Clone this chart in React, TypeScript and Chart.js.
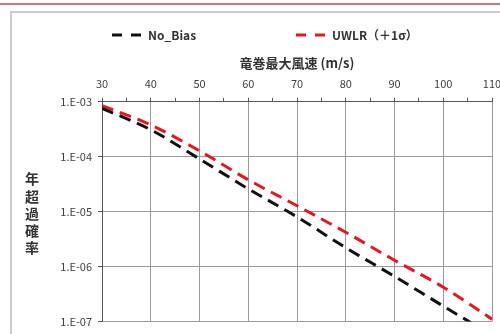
import React, { useEffect, useRef } from "react";
import { Chart, registerables } from "chart.js";

Chart.register(...registerables);

const windSpeeds = [30, 40, 50, 60, 70, 80, 90, 100, 110];
const noBias = [7.6e-4, 3.1e-4, 9.1e-5, 2.6e-5, 8.0e-6, 2.2e-6, 6.6e-7, 1.9e-7, 5.6e-8];
const uwlr = [8.5e-4, 3.8e-4, 1.28e-4, 3.8e-5, 1.28e-5, 4.2e-6, 1.3e-6, 4.2e-7, 1.1e-7];
const seriesLabels = ["No_Bias", "UWLR（＋1σ）"];
const yTickValues = [1e-7, 1e-6, 1e-5, 1e-4, 1e-3];
const xTitle = "竜巻最大風速 (m/s)";
const yTitle = "年超過確率";

const FONT = "'Noto Sans CJK JP', 'Noto Sans', sans-serif";

const framePlugin = {
  id: "framePlugin",
  beforeDraw(chart: any) {
    const ctx = chart.ctx;
    ctx.save();
    ctx.fillStyle = "#ffffff";
    ctx.fillRect(0, 0, chart.width, chart.height);
    ctx.fillStyle = "#d7707f";
    ctx.fillRect(0, 3, 500, 2);
    ctx.strokeStyle = "#cccccc";
    ctx.lineWidth = 2;
    ctx.strokeRect(11, 12, 600, 400);
    ctx.restore();
  },
  afterDraw(chart: any) {
    const ctx = chart.ctx;
    ctx.save();
    ctx.fillStyle = "#333333";
    ctx.font = `bold 14px ${FONT}`;
    ctx.textAlign = "center";
    ctx.textBaseline = "middle";
    const chars = Array.from(yTitle);
    chars.forEach((c, i) => ctx.fillText(c, 32, 179 + i * 17.2));
    const items = [
      { x0: 112, x1: 143, tx: 148 },
      { x0: 296, x1: 326, tx: 332 },
    ];
    chart.data.datasets.forEach((ds: any, i: number) => {
      const it = items[i];
      ctx.strokeStyle = ds.borderColor;
      ctx.lineWidth = 3;
      ctx.setLineDash([10, 9]);
      ctx.beginPath();
      ctx.moveTo(it.x0, 35);
      ctx.lineTo(it.x1, 35);
      ctx.stroke();
      ctx.setLineDash([]);
      ctx.fillStyle = "#333333";
      ctx.font = `bold 12px ${FONT}`;
      ctx.textAlign = "left";
      ctx.fillText(ds.label, it.tx, 35);
    });
    ctx.restore();
  },
};

export default function App() {
  const ref = useRef<HTMLCanvasElement | null>(null);
  useEffect(() => {
    if (!ref.current) return;
    const chart = new Chart(ref.current, {
      type: "line",
      data: {
        datasets: [
          {
            label: seriesLabels[0],
            data: windSpeeds.map((x, i) => ({ x, y: noBias[i] })),
            borderColor: "#111111",
            borderWidth: 3,
            borderDash: [12, 7],
            pointRadius: 0,
            cubicInterpolationMode: "monotone",
          },
          {
            label: seriesLabels[1],
            data: windSpeeds.map((x, i) => ({ x, y: uwlr[i] })),
            borderColor: "#e8141e",
            borderWidth: 3,
            borderDash: [12, 7],
            pointRadius: 0,
            cubicInterpolationMode: "monotone",
          },
        ],
      },
      options: {
        responsive: false,
        animation: false,
        layout: { padding: { left: 50, top: 55, right: 28, bottom: 10 } },
        plugins: {
          legend: { display: false },
          tooltip: { enabled: false },
        },
        scales: {
          x: {
            type: "linear",
            position: "top",
            min: 30,
            max: 110,
            ticks: {
              stepSize: 5,
              autoSkip: false,
              maxRotation: 0,
              color: "#404040",
              font: { family: FONT, size: 11 },
              padding: 7,
              callback: (v: any) => (Number(v) % 10 === 0 ? String(v) : ""),
            },
            grid: {
              color: (c: any) => (c.tick && c.tick.value % 10 === 0 ? "#9a9a9a" : "rgba(0,0,0,0)"),
              tickColor: "#555555",
              tickLength: 4,
              lineWidth: 1,
            },
            border: { color: "#555555", width: 1 },
            title: {
              display: true,
              text: xTitle,
              color: "#333333",
              font: { family: FONT, size: 13, weight: "bold" },
              padding: { top: 0, bottom: 0 },
            },
          },
          y: {
            type: "logarithmic",
            min: 1e-7,
            max: 1e-3,
            afterFit: (s: any) => {
              s.width = 52;
            },
            afterBuildTicks: (s: any) => {
              s.ticks = yTickValues.map((v) => ({ value: v }));
            },
            ticks: {
              color: "#404040",
              font: { family: FONT, size: 11 },
              padding: 6,
              callback: (v: any) => {
                const e = Math.round(Math.log10(Number(v)));
                const a = Math.abs(e);
                return `1.E${e < 0 ? "-" : "+"}${a < 10 ? "0" + a : a}`;
              },
            },
            grid: { color: "#9a9a9a", tickColor: "#555555", tickLength: 4, lineWidth: 1 },
            border: { color: "#555555", width: 1 },
          },
        },
      },
      plugins: [framePlugin],
    } as any);
    return () => chart.destroy();
  }, []);
  return (
    <div style={{ position: "fixed", left: 0, top: 0, width: 500, height: 334, overflow: "hidden" }}>
      <canvas ref={ref} width={520} height={334} style={{ display: "block" }} />
    </div>
  );
}
